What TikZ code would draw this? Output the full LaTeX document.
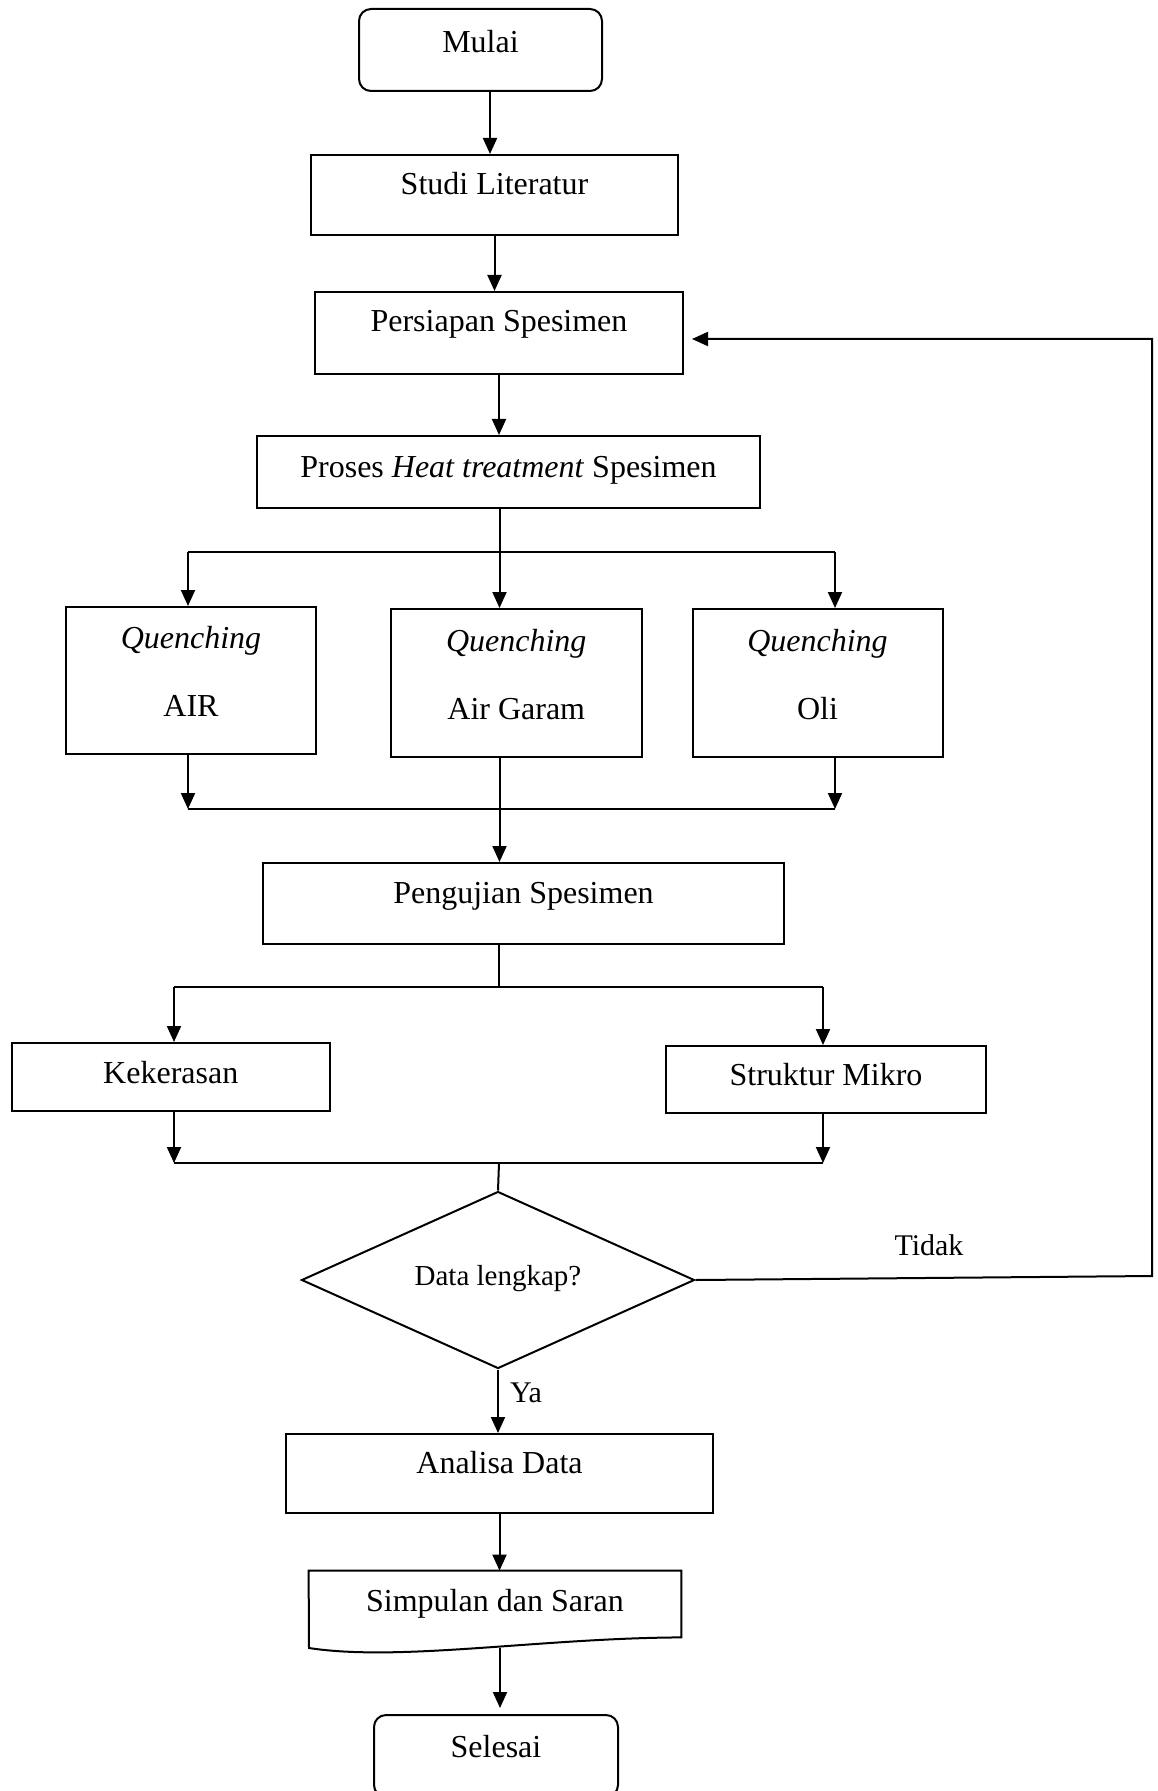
\documentclass[tikz,border=0pt]{standalone}
\usepackage{fontspec}
\setmainfont{Liberation Serif}
\usetikzlibrary{arrows.meta,shapes.geometric}
\newcommand\rtxt[2]{\raisebox{#1}[0pt][0pt]{#2}}
\begin{document}
\begin{tikzpicture}[x=0.5pt,y=-0.5pt,
  font=\fontsize{16}{19}\selectfont,
  box/.style={draw, line width=1pt, rectangle, inner sep=0pt},
  term/.style={box, rounded corners=6pt},
  plain/.style={rectangle, inner sep=0pt},
  ln/.style={line width=1pt},
  arr/.style={line width=1pt, -{Triangle[length=8pt,width=7pt]}},
  small/.style={font=\fontsize{14.5}{17}\selectfont},
  lbl/.style={anchor=base, font=\fontsize{15}{18}\selectfont}]
\path[fill=white] (0,0) rectangle (1157,1791);
\useasboundingbox (0,0) rectangle (1157,1791);

% nodes
\node[term, minimum width=121.5pt, minimum height=41pt] (mul) at (480.5,50) {\rtxt{-1.5pt}{Mulai}};
\node[box, minimum width=183.5pt, minimum height=40pt] (studi) at (494.5,195) {\rtxt{0pt}{Studi Literatur}};
\node[box, minimum width=184pt, minimum height=41pt] (pers) at (499,333) {\rtxt{0.5pt}{Persiapan Spesimen}};
\node[box, minimum width=251.5pt, minimum height=36pt] (proses) at (508.5,472) {\rtxt{-2.5pt}{Proses \textit{Heat treatment} Spesimen}};
\node[box, minimum width=125pt, minimum height=73.5pt] (air) at (191,680.5)
  {\rtxt{-17.75pt}{\begin{tabular}[b]{@{}c@{}}\textit{Quenching}\\[15pt] AIR\end{tabular}}};
\node[box, minimum width=125.25pt, minimum height=74pt] (gar) at (516.25,683)
  {\rtxt{-18pt}{\begin{tabular}[b]{@{}c@{}}\textit{Quenching}\\[15pt] Air Garam\end{tabular}}};
\node[box, minimum width=125pt, minimum height=74pt] (oli) at (817.5,683)
  {\rtxt{-18pt}{\begin{tabular}[b]{@{}c@{}}\textit{Quenching}\\[15pt] Oli\end{tabular}}};
\node[box, minimum width=260.5pt, minimum height=40.5pt] (peng) at (523.5,903.5) {\rtxt{0pt}{Pengujian Spesimen}};
\node[box, minimum width=159.25pt, minimum height=34pt] (kek) at (170.75,1077) {\rtxt{-3pt}{Kekerasan}};
\node[box, minimum width=160pt, minimum height=33.5pt] (str) at (826,1079.5) {\rtxt{-2.75pt}{Struktur Mikro}};
\node[draw, diamond, line width=1pt, inner sep=0pt, minimum width=196.5pt, minimum height=88.5pt, small] (dia) at (498,1280) {\rtxt{-2.5pt}{Data lengkap?}};
\node[lbl] (tidak) at (929,1255) {Tidak};
\node[lbl] (ya) at (526,1402) {Ya};
\node[box, minimum width=213.5pt, minimum height=39.5pt] (ana) at (499.5,1473.5) {\rtxt{0pt}{Analisa Data}};
\node[plain, minimum width=186pt, minimum height=33pt] (simp) at (495,1604) {\rtxt{-3.5pt}{Simpulan dan Saran}};
\node[term, minimum width=122pt, minimum height=41pt] (sel) at (496,1756) {\rtxt{-0.5pt}{Selesai}};

% document shape outline
\draw[ln] (simp.north west) -- (simp.north east) -- (simp.south east)
  .. controls (540,1638) and (400,1662) .. (309,1648) -- cycle;

% junction coordinates
\coordinate (jtop) at (499.5,552);
\coordinate (jl) at (188,552);
\coordinate (jr) at (835,552);
\coordinate (bl) at (188,809);
\coordinate (br) at (835,809);
\coordinate (jmid) at (499,987);
\coordinate (km) at (174,987);
\coordinate (sm) at (823,987);
\coordinate (kb) at (174,1163);
\coordinate (sb) at (823,1163);
\coordinate (jb) at (499,1163);
\coordinate (simpb) at (500,1648);
\coordinate (fb1) at (1152,1276);
\coordinate (fb2) at (1152,339);
\coordinate (fbend) at (692,339);

% connectors
\draw[arr] ([xshift=4.75pt]mul.south) -- ([xshift=4.75pt]mul.south |- studi.north);
\draw[arr] (studi.south) -- (studi.south |- pers.north);
\draw[arr] (pers.south) -- (pers.south |- proses.north);
\draw[ln] (proses.south -| jtop) -- (jtop);
\draw[ln] (jl) -- (jr);
\draw[arr] (jtop) -- (jtop |- gar.north);
\draw[arr] (jl) -- (jl |- air.north);
\draw[arr] (jr) -- (jr |- oli.north);
\draw[arr] (air.south -| bl) -- (bl);
\draw[arr] (oli.south -| br) -- (br);
\draw[ln] (bl) -- (br);
\draw[arr] (gar.south -| jtop) -- (peng.north -| jtop);
\draw[ln] (peng.south -| jmid) -- (jmid);
\draw[ln] (km) -- (sm);
\draw[arr] (km) -- (km |- kek.north);
\draw[arr] (sm) -- (sm |- str.north);
\draw[arr] (kek.south -| kb) -- (kb);
\draw[arr] (str.south -| sb) -- (sb);
\draw[ln] (kb) -- (sb);
\draw[ln] (jb) -- (dia.north);
\draw[arr] (dia.south) -- (dia.south |- ana.north);
\draw[arr] (ana.south) -- (ana.south |- simp.north);
\draw[arr, shorten >=3pt] (simpb) -- (simpb |- sel.north);
\draw[arr] (dia.east) -- (fb1) -- (fb2) -- (fbend);
\end{tikzpicture}
\end{document}
